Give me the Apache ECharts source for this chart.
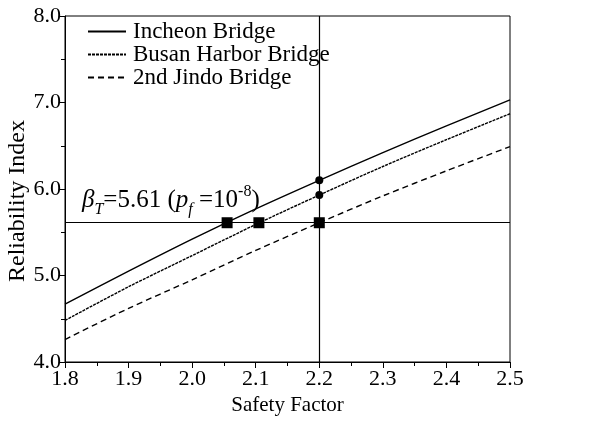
<!DOCTYPE html>
<html>
<head>
<meta charset="utf-8">
<script src="https://cdn.jsdelivr.net/npm/echarts@6/dist/echarts.min.js"></script>
<style>html,body{margin:0;padding:0;background:#fff}#c{width:604px;height:421px}</style>
</head>
<body>
<div id="c"></div>
<script>
const xVals = [1.8, 1.9, 2.0, 2.1, 2.2, 2.3, 2.4, 2.5];
const incheon = [4.67, 5.05, 5.42, 5.77, 6.10, 6.42, 6.73, 7.03];
const busan = [4.48, 4.87, 5.23, 5.59, 5.93, 6.26, 6.57, 6.87];
const jindo = [4.26, 4.62, 4.95, 5.29, 5.61, 5.92, 6.21, 6.49];
const targetBeta = 5.61;
const targetSF = 2.2;
const squareX = [2.055, 2.105, 2.2];
const circleY = [6.10, 5.93];
const seriesNames = ['Incheon Bridge', 'Busan Harbor Bridge', '2nd Jindo Bridge'];

const FONT = 'Liberation Serif';
const zip = (xs, ys) => xs.map((x, i) => [x, ys[i]]);

const chart = echarts.init(document.getElementById('c'), null, {renderer: 'canvas'});

const axisCommon = {
  axisLine: {show: true, lineStyle: {color: '#000', width: 1}},
  axisTick: {show: true, inside: false, length: 6, lineStyle: {color: '#000'}},
  minorTick: {show: true, splitNumber: 2, length: 4, lineStyle: {color: '#000'}},
  splitLine: {show: false},
  nameTextStyle: {color: '#000', fontFamily: FONT, fontSize: 21}
};

chart.setOption({
  animation: false,
  backgroundColor: '#fff',
  grid: {left: 65, right: 94, top: 16, bottom: 59, containLabel: false, outerBoundsMode: 'none',
         show: true, borderColor: '#000', borderWidth: 1},
  xAxis: Object.assign({}, axisCommon, {
    type: 'value', min: 1.8, max: 2.5, interval: 0.1,
    name: 'Safety Factor', nameLocation: 'middle', nameGap: 33,
    axisLabel: {color: '#000', fontFamily: FONT, fontSize: 22, margin: 6, formatter: v => v.toFixed(1)}
  }),
  yAxis: Object.assign({}, axisCommon, {
    type: 'value', min: 4, max: 8, interval: 1,
    name: 'Reliability Index', nameLocation: 'middle', nameGap: 35, nameMoveOverlap: false,
    nameTextStyle: {color: '#000', fontFamily: FONT, fontSize: 24, padding: [0, 24, 0, 0]},
    axisLabel: {color: '#000', fontFamily: FONT, fontSize: 22, margin: 4, formatter: v => v.toFixed(1)}
  }),
  legend: {
    data: seriesNames,
    orient: 'vertical', left: 87, top: 20, itemGap: 0, padding: 0,
    itemWidth: 38, itemHeight: 14,
    itemStyle: {opacity: 0},
    textStyle: {color: '#000', fontFamily: FONT, fontSize: 23, lineHeight: 23, padding: [0, 0, 0, 2]}
  },
  series: [
    {name: seriesNames[0], type: 'line', data: zip(xVals, incheon), symbol: 'none', smooth: 0.3,
     lineStyle: {color: '#000', width: 1.4, type: 'solid'}, itemStyle: {color: '#000'},
     markLine: {silent: true, symbol: ['none', 'none'], label: {show: false},
       lineStyle: {color: '#000', width: 1.2, type: 'solid'},
       data: [{xAxis: targetSF}, {yAxis: targetBeta}]}},
    {name: seriesNames[1], type: 'line', data: zip(xVals, busan), symbol: 'none', smooth: 0.3,
     lineStyle: {color: '#000', width: 1.4, type: [3, 1]}, itemStyle: {color: '#000'}},
    {name: seriesNames[2], type: 'line', data: zip(xVals, jindo), symbol: 'none', smooth: 0.3,
     lineStyle: {color: '#000', width: 1.4, type: [6, 4]}, itemStyle: {color: '#000'}},
    {name: 'targets', type: 'scatter', symbol: 'rect', symbolSize: 11, itemStyle: {color: '#000', opacity: 1},
     data: squareX.map(x => [x, targetBeta]), z: 5},
    {name: 'at2.2', type: 'scatter', symbol: 'circle', symbolSize: 8, itemStyle: {color: '#000', opacity: 1},
     data: circleY.map(y => [targetSF, y]), z: 5}
  ]
});

const p = chart.convertToPixel({xAxisIndex: 0, yAxisIndex: 0}, [1.8, targetBeta]);
chart.setOption({
  graphic: [{
    type: 'text', x: p[0] + 17, y: p[1] - 39,
    style: {
      text: '{i|β}{sub|T}{n|=5.61 (}{i|p}{sub|f}{n| =10}{sup|-8}{n|)}',
      rich: {
        n: {fontFamily: FONT, fontSize: 25, lineHeight: 34, verticalAlign: 'middle', fill: '#000'},
        i: {fontFamily: FONT, fontSize: 25, fontStyle: 'italic', lineHeight: 34, verticalAlign: 'middle', fill: '#000'},
        sub: {fontFamily: FONT, fontSize: 16, fontStyle: 'italic', lineHeight: 16, verticalAlign: 'bottom', fill: '#000'},
        sup: {fontFamily: FONT, fontSize: 16, lineHeight: 16, verticalAlign: 'top', fill: '#000'}
      }
    }
  }]
});
</script>
</body>
</html>
